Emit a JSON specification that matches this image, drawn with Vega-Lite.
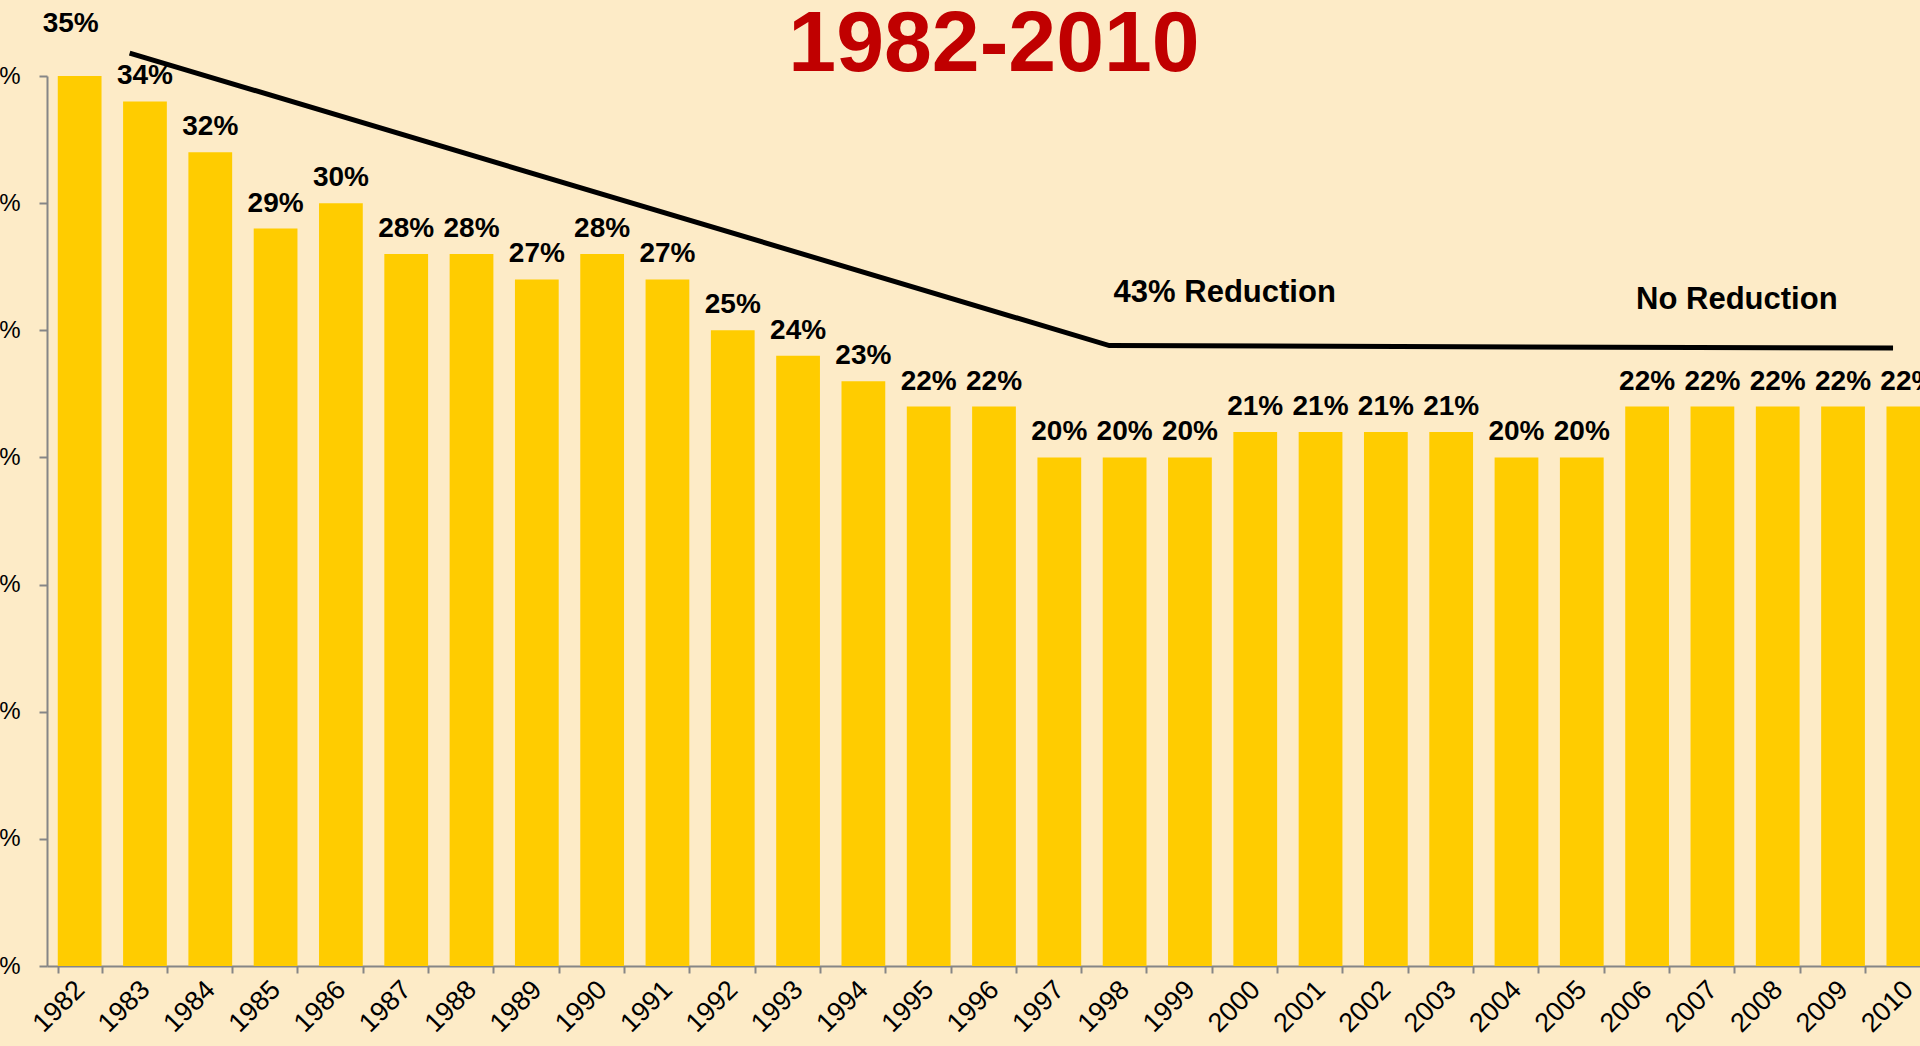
{
  "$schema": "https://vega.github.io/schema/vega-lite/v6.json",
  "autosize": {"type": "none"},
  "padding": {"left": 47, "top": 76, "right": 0, "bottom": 80},
  "width": 1873,
  "height": 890,
  "background": "#FDEBC7",
  "config": {"font": "Liberation Sans", "view": {"stroke": null}},
  "datasets": {
    "bars": [
      {"year": "1982", "share": 0.35}, {"year": "1983", "share": 0.34}, {"year": "1984", "share": 0.32},
      {"year": "1985", "share": 0.29}, {"year": "1986", "share": 0.30}, {"year": "1987", "share": 0.28},
      {"year": "1988", "share": 0.28}, {"year": "1989", "share": 0.27}, {"year": "1990", "share": 0.28},
      {"year": "1991", "share": 0.27}, {"year": "1992", "share": 0.25}, {"year": "1993", "share": 0.24},
      {"year": "1994", "share": 0.23}, {"year": "1995", "share": 0.22}, {"year": "1996", "share": 0.22},
      {"year": "1997", "share": 0.20}, {"year": "1998", "share": 0.20}, {"year": "1999", "share": 0.20},
      {"year": "2000", "share": 0.21}, {"year": "2001", "share": 0.21}, {"year": "2002", "share": 0.21},
      {"year": "2003", "share": 0.21}, {"year": "2004", "share": 0.20}, {"year": "2005", "share": 0.20},
      {"year": "2006", "share": 0.22}, {"year": "2007", "share": 0.22}, {"year": "2008", "share": 0.22},
      {"year": "2009", "share": 0.22}, {"year": "2010", "share": 0.22}
    ],
    "trend": [
      {"year": "1983", "share": 0.359},
      {"year": "1998", "share": 0.244},
      {"year": "2010", "share": 0.243}
    ],
    "notes": [
      {"year": "1998", "share": 0.2647, "note": "43% Reduction"},
      {"year": "2006", "share": 0.2619, "note": "No Reduction"},
      {"year": "1996", "share": 0.352, "note": "1982-2010"}
    ]
  },
  "encoding": {
    "x": {"field": "year", "type": "ordinal", "scale": {"range": [0, 1894], "paddingInner": 0.33, "paddingOuter": 0.165},
      "axis": {"title": null, "labelAngle": -45, "tickBand": "extent", "labelFontSize": 27, "labelColor": "#000000", "labelPadding": 3, "labelOffset": -9, "tickSize": 7, "tickColor": "#868686", "tickWidth": 2, "domainColor": "#868686", "domainWidth": 2}},
    "y": {"field": "share", "type": "quantitative", "scale": {"domain": [0, 0.35], "nice": false, "zero": true},
      "axis": {"title": null, "values": [0, 0.05, 0.1, 0.15, 0.2, 0.25, 0.3, 0.35], "format": ".0%", "grid": false, "labelFontSize": 24, "labelColor": "#000000", "labelPadding": 19, "tickSize": 8, "tickColor": "#868686", "tickWidth": 2, "domainColor": "#868686", "domainWidth": 2}}
  },
  "layer": [
    {"data": {"name": "bars"}, "mark": {"type": "bar", "color": "#FFCC00"}},
    {"data": {"name": "bars"}, "transform": [{"filter": "datum.year !== '1982'"}],
      "mark": {"type": "text", "fontSize": 28, "fontWeight": "bold", "color": "#000000", "baseline": "alphabetic", "dy": -17},
      "encoding": {"text": {"field": "share", "type": "quantitative", "format": ".0%"}}},
    {"data": {"name": "bars"}, "transform": [{"filter": "datum.year === '1982'"}],
      "mark": {"type": "text", "fontSize": 28, "fontWeight": "bold", "color": "#000000", "baseline": "alphabetic", "dy": -44, "dx": -9},
      "encoding": {"text": {"field": "share", "type": "quantitative", "format": ".0%"}}},
    {"data": {"name": "trend"}, "mark": {"type": "line", "color": "#000000", "strokeWidth": 5},
      "encoding": {"x": {"field": "year", "type": "ordinal", "bandPosition": 0.15}}},
    {"data": {"name": "notes"}, "transform": [{"filter": "datum.note !== '1982-2010'"}],
      "mark": {"type": "text", "fontSize": 31, "fontWeight": "bold", "color": "#000000", "align": "left", "baseline": "middle", "dx": -11},
      "encoding": {"text": {"field": "note", "type": "nominal"}}},
    {"data": {"name": "notes"}, "transform": [{"filter": "datum.note === '1982-2010'"}],
      "mark": {"type": "text", "fontSize": 86, "fontWeight": "bold", "color": "#C00000", "align": "center", "baseline": "alphabetic", "dx": 0},
      "encoding": {"text": {"field": "note", "type": "nominal"}}}
  ]
}
